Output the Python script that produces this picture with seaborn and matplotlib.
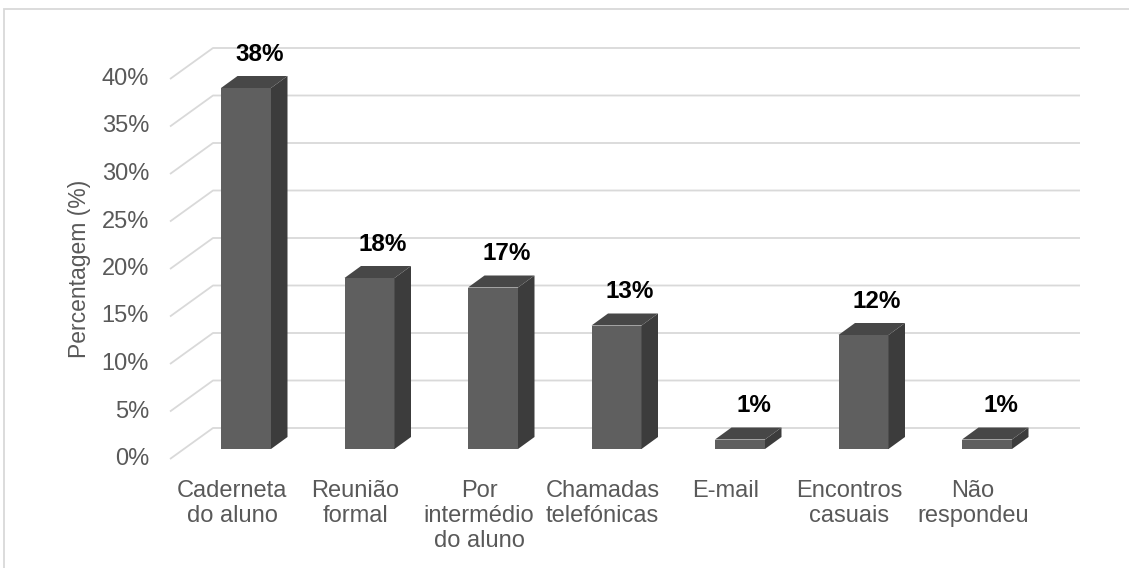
import matplotlib
matplotlib.use("Agg")
import matplotlib.pyplot as plt
from matplotlib.patches import Polygon, Rectangle
import seaborn as sns
import pandas as pd

# Meios de contacto com a escola (%)
categorias = [
    "Caderneta\ndo aluno",
    "Reunião\nformal",
    "Por\nintermédio\ndo aluno",
    "Chamadas\ntelefónicas",
    "E-mail",
    "Encontros\ncasuais",
    "Não\nrespondeu",
]
percentagens = [38, 18, 17, 13, 1, 12, 1]
ticks_y = [0, 5, 10, 15, 20, 25, 30, 35, 40]
rotulo_y = "Percentagem (%)"

sns.set_style("white")
plt.rcParams["font.family"] = ["Liberation Sans", "DejaVu Sans"]

W, H = 1129, 568
fig = plt.figure(figsize=(W / 100, H / 100), dpi=100)
ax = fig.add_axes([0, 0, 1, 1])

# pixel scale of the chart: one category step and one percentage point
px_cat = 123.5
px_pct = 9.5
x0_px, y0_px = 246, 449  # first bar centre / baseline of bar fronts

# 3D depth of the bars and of the wall
depth_dx = 16.5 / px_cat
depth_dy = 12 / px_pct
wall_dy = 21 / px_pct
floor_dy = -10 / px_pct
wall_x0 = (213 - x0_px) / px_cat
wall_x1 = (1080 - x0_px) / px_cat
floor_x0 = (170 - x0_px) / px_cat

grid_col = "#d9d9d9"
text_col = "#595959"
front_col = "#5f5f5f"
side_col = "#3c3c3c"
top_col = "#474747"

fs_text = 17
fs_value = 17.5

# back wall gridlines with their diagonal floor projection
for v in ticks_y:
    ax.plot([floor_x0, wall_x0, wall_x1], [v + floor_dy, v + wall_dy, v + wall_dy],
             color=grid_col, lw=1.3, zorder=0, solid_capstyle="butt")
    ax.text((149 - x0_px) / px_cat, v + floor_dy, f"{v}%", ha="right", va="center",
            fontsize=fs_text, color=text_col)

df = pd.DataFrame({"categoria": categorias, "pct": percentagens})
sns.barplot(data=df, x="categoria", y="pct", color=front_col, saturation=1,
            width=50 / px_cat, ax=ax, zorder=3, linewidth=0)

# side and top faces of each column
for patch, v in zip(ax.patches, percentagens):
    bx = patch.get_x()
    bw = patch.get_width()
    bh = patch.get_height()
    side = Polygon([(bx + bw, 0), (bx + bw + depth_dx, depth_dy),
                    (bx + bw + depth_dx, bh + depth_dy), (bx + bw, bh)],
                   closed=True, facecolor=side_col, edgecolor="none", zorder=3)
    top = Polygon([(bx, bh), (bx + bw, bh), (bx + bw + depth_dx, bh + depth_dy),
                   (bx + depth_dx, bh + depth_dy)],
                  closed=True, facecolor=top_col, edgecolor="none", zorder=3)
    ax.add_patch(side)
    ax.add_patch(top)
    ax.text(bx + bw / 2 + 13.5 / px_cat, bh + depth_dy + 2.3, f"{v}%",
            ha="center", va="center", fontsize=fs_value, fontweight="bold", color="black")

# category labels along the front floor edge
for i, c in enumerate(categorias):
    ax.text(i - 14 / px_cat, -(480 - y0_px) / px_pct, c, ha="center", va="top",
            fontsize=fs_text, color=text_col, linespacing=1.17)

ax.text((80 - x0_px) / px_cat, (y0_px - 269) / px_pct, rotulo_y, rotation=90,
        ha="center", va="center", fontsize=16.5, color=text_col)

ax.set_xlim(-x0_px / px_cat, (W - x0_px) / px_cat)
ax.set_ylim(-(H - y0_px) / px_pct, y0_px / px_pct)
ax.axis("off")

# chart area border
fig.add_artist(Rectangle((3.5 / W, -0.1), 1.1, 1.1 - 9.5 / H, transform=fig.transFigure,
                         fill=False, edgecolor=grid_col, lw=1.3))

fig.savefig("out.png", dpi=100, facecolor="white")
